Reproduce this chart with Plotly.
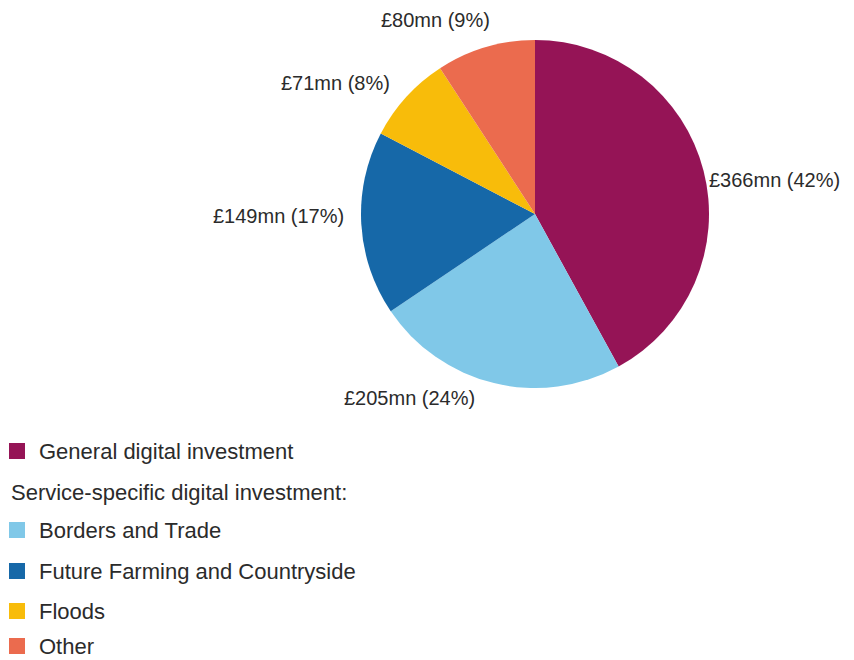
import plotly.graph_objects as go

labels = ["General digital investment", "Borders and Trade",
          "Future Farming and Countryside", "Floods", "Other"]
values = [366, 205, 149, 71, 80]
percents = [42, 24, 17, 8, 9]
colors = ["#951456", "#80C8E8", "#1668A8", "#F8BC0A", "#EB6B4E"]
legend_header = "Service-specific digital investment:"

# page body has an 8px margin; work in window pixels and convert
OFF = 8
W, H = 854 - OFF, 660 - OFF
FONT = "Liberation Sans"
TXT = "#2b2b2b"


def px(x):
    return (x - OFF) / W


def py(y):
    return 1 - (y - OFF) / H


CX, CY, R = 535, 214, 174
fig = go.Figure(go.Pie(
    labels=labels, values=values, sort=False, direction="clockwise",
    rotation=0, marker=dict(colors=colors, line=dict(width=0)),
    textinfo="none", hoverinfo="label+value", showlegend=False,
    domain=dict(x=[px(CX - R), px(CX + R)], y=[py(CY + R), py(CY - R)]),
))

# slice value labels (placement in window pixels)
label_pos = [(842, 180, "right"), (342, 398, "left"), (346, 216, "right"),
             (392, 83, "right"), (435, 20, "center")]
ann = []
for v, p, (x, y, anc) in zip(values, percents, label_pos):
    ann.append(dict(x=px(x), y=py(y), xref="paper", yref="paper",
                    text=f"£{v}mn ({p}%)", showarrow=False, xanchor=anc,
                    yanchor="middle", font=dict(family=FONT, size=20, color=TXT)))

# legend
rows = [451, 530, 571, 611, 646]
shapes = []
for lab, col, y in zip(labels, colors, rows):
    shapes.append(dict(type="rect", xref="paper", yref="paper",
                       x0=px(9), x1=px(25), y0=py(y + 8), y1=py(y - 8),
                       fillcolor=col, line=dict(width=0)))
    ann.append(dict(x=px(37), y=py(y), xref="paper", yref="paper", text=lab,
                    showarrow=False, xanchor="left", yanchor="middle",
                    font=dict(family=FONT, size=22, color=TXT)))
ann.append(dict(x=px(9), y=py(492), xref="paper", yref="paper", text=legend_header,
                showarrow=False, xanchor="left", yanchor="middle",
                font=dict(family=FONT, size=22, color=TXT)))

fig.update_layout(width=W, height=H, margin=dict(l=0, r=0, t=0, b=0),
                  paper_bgcolor="white", plot_bgcolor="white",
                  annotations=ann, shapes=shapes)
fig.write_html("out.html")
